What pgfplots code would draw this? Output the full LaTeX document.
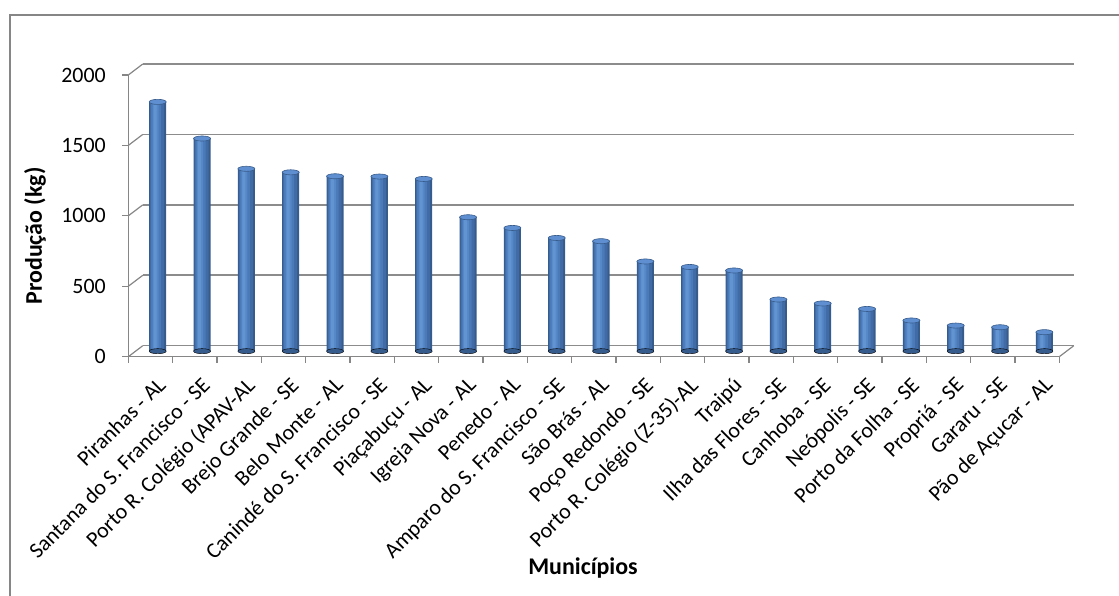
\documentclass[border=0pt]{standalone}
\usepackage{pgfplots}
\pgfplotsset{compat=1.18}
\usepackage{pgfplotstable}
\usepackage{fontspec}
\setmainfont{Carlito}
\definecolor{axgray}{HTML}{868686}
\definecolor{gridgray}{HTML}{8C8C8C}
\definecolor{bA}{HTML}{365C8E}
\definecolor{bB}{HTML}{416BA5}
\definecolor{bC}{HTML}{4B7AB9}
\definecolor{bD}{HTML}{5687C7}
\definecolor{bE}{HTML}{6394D2}
\definecolor{topfill}{HTML}{5F8FD0}
\definecolor{topdraw}{HTML}{375B8A}

\pgfplotstableread{
x y
0 1770
1 1510
2 1295
3 1270
4 1242
5 1240
6 1223
7 951
8 875
9 804
10 781
11 637
12 598
13 573
14 367
15 339
16 300
17 218
18 182
19 170
20 135
}\datatable

\begin{document}
\begin{tikzpicture}
\useasboundingbox (0bp,0bp) rectangle (1119bp,596bp);
\draw[axgray, line width=1.5bp] (10bp,581bp) rectangle (1140bp,-20bp);
\begin{axis}[
  at={(128.3bp,239.3bp)}, anchor=south west,
  scale only axis, width=931bp, height=281.7bp,
  xmin=-0.5, xmax=20.5, ymin=0, ymax=2000,
  axis x line*=bottom, axis y line*=left,
  axis line style={axgray, line width=1.5bp},
  tick align=outside,
  ytick={0,500,1000,1500,2000},
  major tick length=6bp,
  minor tick length=6bp,
  every tick/.style={axgray, line width=1.2bp},
  xtick={0,...,20},
  major x tick style={draw=none},
  minor xtick={-0.5,0.5,...,20.5},
  xticklabels={Piranhas - AL, Santana do S. Francisco - SE, Porto R. Colégio (APAV-AL, Brejo Grande - SE, Belo Monte - AL, Canindé do S. Francisco - SE, Piaçabuçu - AL, Igreja Nova - AL, Penedo - AL, Amparo do S. Francisco - SE, São Brás - AL, Poço Redondo - SE, Porto R. Colégio (Z-35)-AL, Traipú, Ilha das Flores - SE, Canhoba - SE, Neópolis - SE, Porto da Folha - SE, Propriá - SE, Gararu - SE, Pão de Açucar - AL},
  /pgf/number format/assume math mode=true,
  /pgf/number format/1000 sep={},
  tick label style={font=\fontsize{22}{26}\selectfont, text=black},
  yticklabel style={xshift=-13bp},
  xticklabel style={rotate=45, anchor=north east, inner sep=1bp, xshift=-4bp, yshift=-12bp},
  xlabel={Municípios}, ylabel={Produção (kg)},
  label style={font=\fontsize{24}{28}\selectfont\bfseries},
  xlabel style={at={(axis description cs:0.4884,-0.75)}, anchor=center},
  ylabel style={at={(axis description cs:-0.1002,0.4285)}, anchor=center},
  clip=false,
]
\pgfplotsinvokeforeach{0,500,1000,1500,2000}{
  \draw[gridgray, line width=1.6bp] ([shift={(14.5bp,11bp)}]axis cs:-0.5,#1) -- ([shift={(14.5bp,11bp)}]axis cs:20.5,#1);
  \draw[axgray, line width=1.2bp] (axis cs:-0.5,#1) -- ++(14.5bp,11bp);
}
\draw[axgray, line width=1.2bp] (axis cs:20.5,0) -- ++(14.5bp,11bp);
\end{axis}
\begin{axis}[
  at={(135.55bp,244.8bp)}, anchor=south west,
  scale only axis, width=931bp, height=281.7bp,
  xmin=-0.5, xmax=20.5, ymin=0, ymax=2000,
  hide axis, clip=false,
]
\addplot[only marks, mark=*, mark size=8.5bp, mark options={yscale=0.3, draw=none, fill=bA}] table[x=x, y expr=0] {\datatable};
\addplot[ybar, bar width=17bp, bar shift=0bp, draw=none, fill=bA] table[x=x, y=y] {\datatable};
\addplot[ybar, bar width=14bp, bar shift=-0.5bp, draw=none, fill=bB] table[x=x, y=y] {\datatable};
\addplot[ybar, bar width=10bp, bar shift=-1.5bp, draw=none, fill=bC] table[x=x, y=y] {\datatable};
\addplot[ybar, bar width=6bp, bar shift=-2bp, draw=none, fill=bD] table[x=x, y=y] {\datatable};
\addplot[ybar, bar width=3bp, bar shift=-2.5bp, draw=none, fill=bE] table[x=x, y=y] {\datatable};
\addplot[only marks, mark=*, mark size=8.5bp, mark options={yscale=0.3, fill=topfill, draw=topdraw, line width=0.6bp}] table[x=x, y=y] {\datatable};
\end{axis}
\end{tikzpicture}
\end{document}
